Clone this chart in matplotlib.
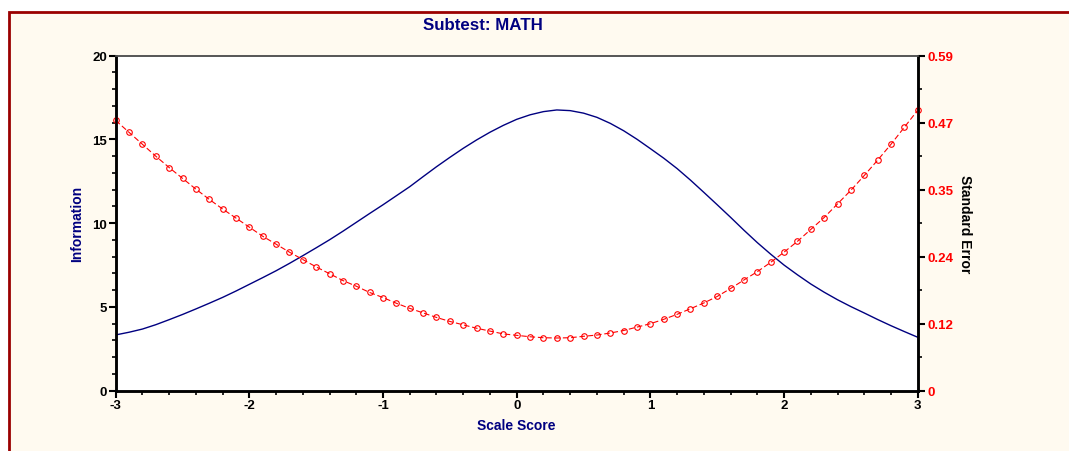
import matplotlib.pyplot as plt
import matplotlib.patches as patches
from matplotlib.ticker import MultipleLocator, FixedLocator
import numpy as np

plt.rcParams['font.family'] = ['Liberation Sans', 'DejaVu Sans']
plt.rcParams['axes.unicode_minus'] = False

# scale score grid (every 0.1 from -3 to 3)
theta = [round(-3 + 0.1 * i, 1) for i in range(61)]

# test information (left axis)
information = [
    3.33, 3.49, 3.68, 3.94, 4.24, 4.55, 4.88, 5.22, 5.57, 5.95,
    6.35, 6.75, 7.16, 7.60, 8.06, 8.53, 9.01, 9.52, 10.05, 10.58,
    11.10, 11.64, 12.18, 12.78, 13.37, 13.93, 14.47, 14.97, 15.43, 15.84,
    16.20, 16.47, 16.66, 16.76, 16.72, 16.57, 16.32, 15.96, 15.52, 15.01,
    14.45, 13.88, 13.26, 12.57, 11.84, 11.10, 10.35, 9.58, 8.84, 8.15,
    7.50, 6.92, 6.37, 5.88, 5.43, 5.02, 4.64, 4.25, 3.88, 3.53,
    3.19,
]

# standard error (right axis)
std_error = [
    0.476, 0.455, 0.434, 0.413, 0.393, 0.374, 0.355, 0.337, 0.320, 0.304,
    0.288, 0.272, 0.258, 0.244, 0.231, 0.218, 0.206, 0.194, 0.184, 0.173,
    0.164, 0.154, 0.145, 0.137, 0.129, 0.122, 0.116, 0.110, 0.105, 0.100,
    0.0975, 0.095, 0.0933, 0.0928, 0.0933, 0.0958, 0.098, 0.1016, 0.106, 0.112,
    0.118, 0.1257, 0.1345, 0.1444, 0.1545, 0.166, 0.180, 0.195, 0.2096, 0.226,
    0.244, 0.263, 0.284, 0.305, 0.329, 0.353, 0.379, 0.406, 0.434, 0.464,
    0.494,
]

se_max = 0.59
se_ticks = [0, 0.118, 0.236, 0.354, 0.472, 0.59]
se_labels = ['0', '0.12', '0.24', '0.35', '0.47', '0.59']

navy = '#000080'
red = '#ff0000'

fig = plt.figure(figsize=(10.69, 4.52), dpi=100)
fig.patch.set_facecolor('white')

# cream panel with dark red frame
frame = patches.Rectangle((9 / 1069, -0.05), 1.1, 1 - 13 / 452 + 0.05,
                          transform=fig.transFigure, facecolor='#fffaf0',
                          edgecolor='#9a0000', linewidth=2, zorder=-10)
fig.patches.append(frame)

ax = fig.add_axes([0.1082, 0.1334, 0.7503, 0.7412])
ax.set_facecolor('white')
ax.plot(theta, information, color=navy, linewidth=1)
ax.set_xlim(-3, 3)
ax.set_ylim(0, 20)
ax.xaxis.set_major_locator(MultipleLocator(1))
ax.xaxis.set_minor_locator(MultipleLocator(0.2))
ax.yaxis.set_major_locator(MultipleLocator(5))
ax.yaxis.set_minor_locator(MultipleLocator(1))

ax2 = ax.twinx()
ax2.plot(theta, std_error, color=red, linewidth=0.8, dashes=(5, 2.5),
         marker='o', markersize=4, markerfacecolor='none',
         markeredgewidth=0.8, clip_on=False)
ax2.set_ylim(0, se_max)
ax2.yaxis.set_major_locator(FixedLocator(se_ticks))
ax2.yaxis.set_minor_locator(FixedLocator([0.059, 0.177, 0.295, 0.413, 0.531]))
ax2.set_yticklabels(se_labels)

for a in (ax, ax2):
    for s in ('left', 'right', 'bottom'):
        a.spines[s].set_linewidth(1.8)
        a.spines[s].set_color('black')
    a.spines['top'].set_color('#555555')
    a.spines['top'].set_linewidth(1.2)
    a.tick_params(which='major', direction='out', length=5, width=1.5)
    a.tick_params(which='minor', direction='out', length=3, width=1.2)

ax.tick_params(axis='both', labelsize=9.5, pad=1)
ax2.tick_params(axis='y', labelsize=9.5, labelcolor=red, pad=2)
for lbl in ax.get_xticklabels() + ax.get_yticklabels():
    lbl.set_fontweight('bold')
for lbl in ax2.get_yticklabels():
    lbl.set_fontweight('bold')

ax.set_xlabel('Scale Score', color=navy, fontsize=10, fontweight='bold', labelpad=5)
ax.set_ylabel('Information', color=navy, fontsize=10, fontweight='bold', labelpad=6)
ax2.set_ylabel('Standard Error', color='black', fontsize=10, fontweight='bold',
               rotation=270, labelpad=3, va='bottom')

fig.text(483 / 1069, 1 - 26 / 452, 'Subtest: MATH', color=navy, fontsize=12.2,
         fontweight='bold', ha='center', va='center')

fig.savefig('out.png', dpi=100, facecolor=fig.get_facecolor())
